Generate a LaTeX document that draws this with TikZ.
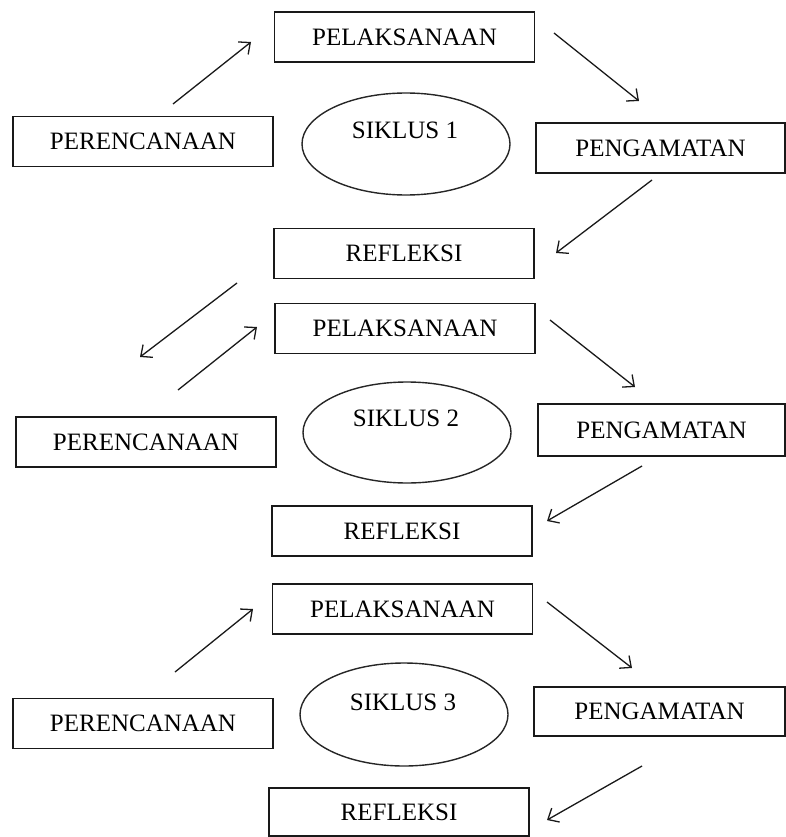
\documentclass[tikz,border=0pt]{standalone}
\usepackage{fontspec}
\setmainfont{Liberation Serif}
\usetikzlibrary{arrows.meta,shapes.geometric}
\begin{document}
\begin{tikzpicture}[x=1pt,y=-1pt,
  box/.style={draw=black!90,line width=1.5pt,minimum width=260pt,minimum height=50pt,inner sep=0pt,
    font=\fontsize{25}{30}\selectfont,text=black},
  cyc/.style={draw=black!85,line width=1.4pt,ellipse,minimum width=208pt,minimum height=102pt,inner sep=0pt},
  lbl/.style={font=\fontsize{25}{30}\selectfont,text=black,inner sep=0pt},
  arr/.style={draw=black!90,line width=1.3pt,-{Straight Barb[length=9pt,width=16pt,line width=1.3pt]}}]
\useasboundingbox (0,0) rectangle (786,837);
% cycle 1
\node[box] (pel1) at (404.5,37) {PELAKSANAAN};
\node[box] (per1) at (143,141.5) {PERENCANAAN};
\node[box,minimum width=249pt] (eng1) at (660.5,148) {PENGAMATAN};
\node[box] (ref1) at (404,253.5) {REFLEKSI};
\node[cyc] (ell1) at (406,144) {};
\node[lbl] (s1) at (405,130) {SIKLUS 1};
% cycle 2
\node[box] (pel2) at (405,328.5) {PELAKSANAAN};
\node[box] (per2) at (146,442) {PERENCANAAN};
\node[box,minimum width=247pt,minimum height=52pt] (eng2) at (661.5,430) {PENGAMATAN};
\node[box] (ref2) at (402,531) {REFLEKSI};
\node[cyc,minimum height=101pt] (ell2) at (407,432.5) {};
\node[lbl] (s2) at (406,418) {SIKLUS 2};
% cycle 3
\node[box] (pel3) at (402.5,609) {PELAKSANAAN};
\node[box] (per3) at (143,723.5) {PERENCANAAN};
\node[box,minimum width=251pt,minimum height=49pt] (eng3) at (659.5,711.5) {PENGAMATAN};
\node[box,minimum height=48pt] (ref3) at (399,812) {REFLEKSI};
\node[cyc,minimum height=103pt] (ell3) at (404,714.5) {};
\node[lbl] (s3) at (403,702) {SIKLUS 3};
% arrow end points
\coordinate (a1s) at (173,104); \coordinate (a1e) at (251,42);
\coordinate (a2s) at (554,33);  \coordinate (a2e) at (639,101);
\coordinate (a3s) at (652,180); \coordinate (a3e) at (556,253);
\coordinate (a4s) at (237,283); \coordinate (a4e) at (140,357);
\coordinate (b1s) at (178,390); \coordinate (b1e) at (257,327);
\coordinate (b2s) at (550,320); \coordinate (b2e) at (635,387);
\coordinate (b3s) at (642,466); \coordinate (b3e) at (547,521);
\coordinate (c1s) at (175,672); \coordinate (c1e) at (253,609);
\coordinate (c2s) at (547,602); \coordinate (c2e) at (632,668);
\coordinate (c3s) at (642,766); \coordinate (c3e) at (547,820);
\draw[arr] (a1s) -- (a1e);
\draw[arr] (a2s) -- (a2e);
\draw[arr] (a3s) -- (a3e);
\draw[arr] (a4s) -- (a4e);
\draw[arr] (b1s) -- (b1e);
\draw[arr] (b2s) -- (b2e);
\draw[arr] (b3s) -- (b3e);
\draw[arr] (c1s) -- (c1e);
\draw[arr] (c2s) -- (c2e);
\draw[arr] (c3s) -- (c3e);
\end{tikzpicture}
\end{document}
